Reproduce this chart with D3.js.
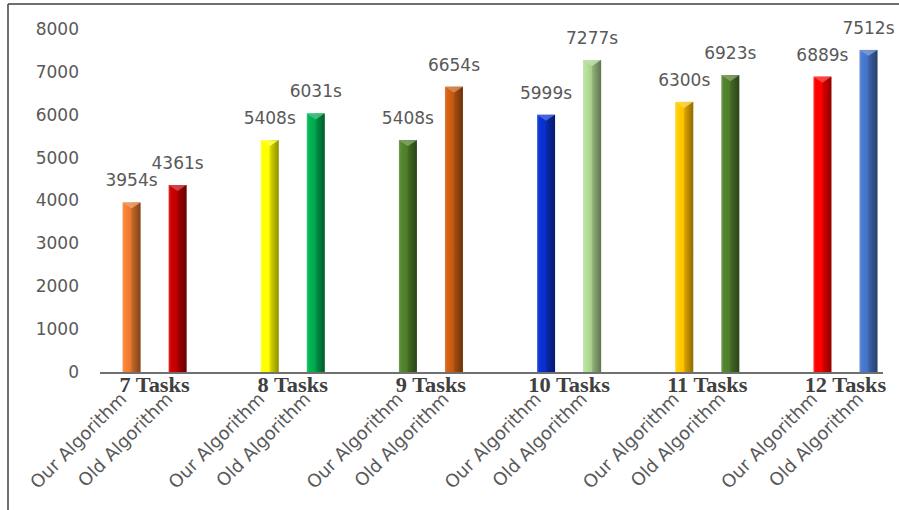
<!DOCTYPE html>
<html>
<head>
<meta charset="utf-8">
<script src="https://cdn.jsdelivr.net/npm/d3@7"></script>
<style>
  html, body { margin: 0; padding: 0; background: #ffffff; }
  svg { display: block; }
</style>
</head>
<body>
<svg id="chart" width="899" height="510"></svg>
<script>
// ---- data ----
const groups = ["7 Tasks", "8 Tasks", "9 Tasks", "10 Tasks", "11 Tasks", "12 Tasks"];
const algorithms = ["Our Algorithm", "Old Algorithm"];
const ourValues = [3954, 5408, 5408, 5999, 6300, 6889];
const oldValues = [4361, 6031, 6654, 7277, 6923, 7512];
const ourColors = ["#E8792E", "#FFFF00", "#4E7C2A", "#0A2FC8", "#FFC000", "#FF0000"];
const oldColors = ["#C00000", "#00A84F", "#C55A11", "#A9D18E", "#4F7B2C", "#4472C4"];
const yTicks = [0, 1000, 2000, 3000, 4000, 5000, 6000, 7000, 8000];
const valueSuffix = "s";

// ---- build rows ----
const rows = [];
const slots = [];
groups.forEach((g, i) => {
  rows.push({ group: g, alg: algorithms[0], value: ourValues[i], color: ourColors[i], key: g + "|0" });
  rows.push({ group: g, alg: algorithms[1], value: oldValues[i], color: oldColors[i], key: g + "|1" });
  slots.push(g + "|0", g + "|1");
  if (i < groups.length - 1) slots.push(g + "|gap");
});

const svg = d3.select("#chart");
const W = 899, H = 510;
const floorShift = 8.5;

// frame (top and left edges visible)
svg.append("line").attr("x1", 8).attr("y1", 4).attr("x2", W).attr("y2", 4)
  .attr("stroke", "#404040").attr("stroke-width", 1.5);
svg.append("line").attr("x1", 8).attr("y1", 4).attr("x2", 8).attr("y2", H)
  .attr("stroke", "#404040").attr("stroke-width", 1.5);

const x = d3.scaleBand().domain(slots).range([108.5, 891.5])
  .paddingInner(0.609).paddingOuter(0.3045);
const y = d3.scaleLinear().domain([0, 8000]).range([372, 29]);

// gradients
const defs = svg.append("defs");
rows.forEach((d, i) => {
  const c = d3.color(d.color);
  const grad = defs.append("linearGradient").attr("id", "g" + i)
    .attr("x1", "0%").attr("x2", "100%").attr("y1", "0%").attr("y2", "0%");
  const stops = [
    [0, d3.interpolateRgb(d.color, "#ffffff")(0.25)],
    [0.12, c.brighter(0.25).formatHex()],
    [0.45, d.color],
    [0.65, c.darker(0.6).formatHex()],
    [1, c.darker(1.8).formatHex()]
  ];
  stops.forEach(s => grad.append("stop").attr("offset", s[0]).attr("stop-color", s[1]));
});

// y axis tick labels
const yAxis = d3.axisLeft(y).tickValues(yTicks).tickFormat(d3.format("d")).tickSize(0).tickPadding(0);
const yg = svg.append("g").attr("transform", "translate(79,0)").call(yAxis);
yg.select(".domain").remove();
yg.selectAll("text")
  .attr("font-family", "'DejaVu Sans', sans-serif")
  .attr("font-size", 17)
  .attr("fill", "#595959");

// bars
const bw = x.bandwidth();
const bars = svg.append("g");
rows.forEach((d, i) => {
  const x0 = x(d.key), top = y(d.value), base = y(0);
  bars.append("rect")
    .attr("x", x0).attr("y", top).attr("width", bw).attr("height", base - top)
    .attr("fill", "url(#g" + i + ")");
  // bevel cap
  const c = d3.color(d.color);
  bars.append("path")
    .attr("d", `M${x0},${top} L${x0 + bw},${top} L${x0 + bw / 2},${top + 6} Z`)
    .attr("fill", d3.interpolateRgb(d.color, "#ffffff")(0.3))
    .attr("opacity", 0.85);
  bars.append("path")
    .attr("d", `M${x0 + bw},${top} L${x0 + bw / 2},${top + 6} L${x0 + bw / 2},${base} L${x0 + bw},${base} Z`)
    .attr("fill", c.darker(1.2).formatHex())
    .attr("opacity", 0.25);
});

// value labels
svg.append("g").selectAll("text").data(rows).join("text")
  .attr("x", d => x(d.key) + bw / 2)
  .attr("y", d => y(d.value) - 16)
  .attr("text-anchor", "middle")
  .attr("font-family", "'DejaVu Sans', sans-serif")
  .attr("font-size", 17)
  .attr("fill", "#595959")
  .text(d => d.value + valueSuffix);

// floor / category axis line
svg.append("line")
  .attr("x1", x.range()[0] - floorShift).attr("x2", x.range()[1] - floorShift)
  .attr("y1", y(0) + 1).attr("y2", y(0) + 1)
  .attr("stroke", "#404040").attr("stroke-width", 1.5);

// rotated algorithm labels
svg.append("g").selectAll("text").data(rows).join("text")
  .attr("transform", d => `translate(${x(d.key) + bw / 2 - 4},400) rotate(-45)`)
  .attr("text-anchor", "end")
  .attr("font-family", "'DejaVu Sans', sans-serif")
  .attr("font-size", 18)
  .attr("fill", "#595959")
  .text(d => d.alg);

// group labels
svg.append("g").selectAll("text").data(groups).join("text")
  .attr("transform", g => `translate(${(x(g + "|0") + x(g + "|1") + bw) / 2},392) scale(1.12,1)`)
  .attr("text-anchor", "middle")
  .attr("font-family", "'Liberation Serif', 'Times New Roman', serif")
  .attr("font-weight", "bold")
  .attr("font-size", 20)
  .attr("fill", "#404040")
  .text(g => g);
</script>
</body>
</html>
